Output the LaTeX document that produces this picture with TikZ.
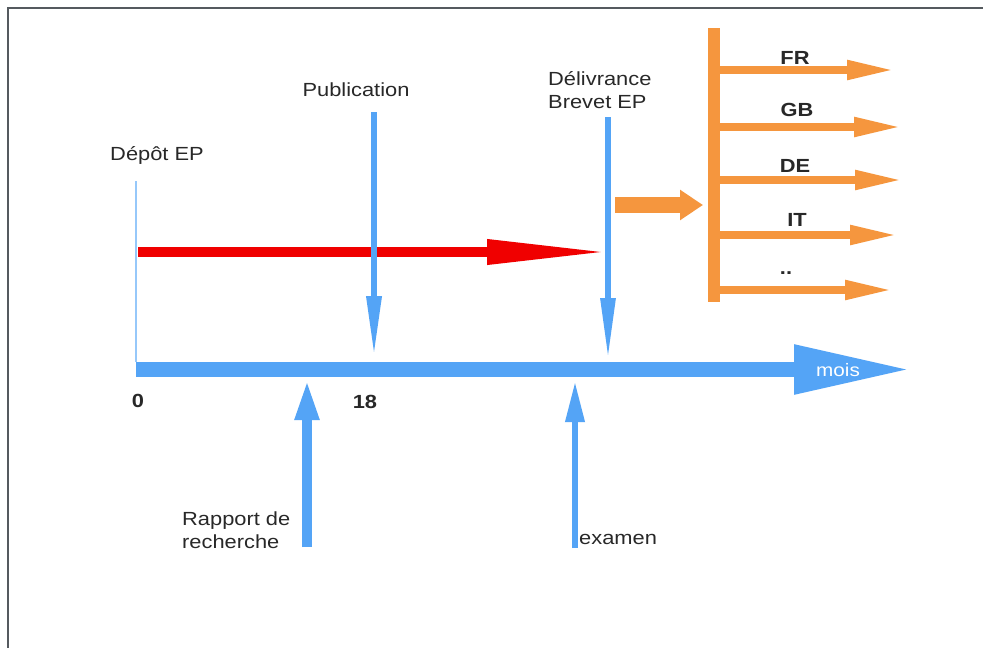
\documentclass[tikz,border=0pt]{standalone}
\usepackage{fontspec}
\setmainfont{Liberation Sans}[FakeStretch=1.15]
\usetikzlibrary{arrows.meta}
\definecolor{skyb}{RGB}{84,164,246}
\definecolor{paleb}{RGB}{150,200,250}
\definecolor{redarr}{RGB}{240,0,0}
\definecolor{orng}{RGB}{245,150,62}
\definecolor{txt}{RGB}{40,40,40}
\definecolor{frm}{RGB}{85,90,95}
\begin{document}
\begin{tikzpicture}[x=1pt,y=-1pt,
  lbl/.style={inner sep=0pt, text=txt, font=\fontsize{19}{23}\selectfont},
  blbl/.style={inner sep=0pt, text=txt, font=\fontsize{19}{23}\selectfont\bfseries},
  blockarr/.style n args={4}{draw=#1, line width=#2, -{Triangle[length=#3, width=#4]}}]
\useasboundingbox (0,0) rectangle (983,648);
\clip (0,0) rectangle (983,648);
\fill[white] (0,0) rectangle (983,648);
\draw[frm, line width=2pt] (8,8) rectangle (1010,680);

% coordinates
\coordinate (d0) at (136,181);   \coordinate (d1) at (136,362);
\coordinate (r0) at (138,252);   \coordinate (r1) at (611,252);
\coordinate (p0) at (374,112);   \coordinate (p1) at (374,358);
\coordinate (e0) at (608,117);   \coordinate (e1) at (608,360);
\coordinate (m0) at (136,369.5); \coordinate (m1) at (911,369.5);
\coordinate (rr0) at (307,547);  \coordinate (rr1) at (307,379);
\coordinate (x0) at (575,548);   \coordinate (x1) at (575,381);
\coordinate (ob0) at (714,28);   \coordinate (ob1) at (714,302);
\coordinate (os0) at (615,205);  \coordinate (os1) at (703,205);

% thin depot line
\draw[paleb, line width=2pt] (d0) -- (d1);
% main time axis
\draw[blockarr={skyb}{15pt}{117pt}{46pt}] (m0) -- (m1);
% red arrow
\draw[blockarr={redarr}{10pt}{124pt}{23pt}] (r0) -- (r1);
% publication and delivrance arrows
\draw[blockarr={skyb}{6.5pt}{62pt}{14pt}] (p0) -- (p1);
\draw[blockarr={skyb}{6pt}{62pt}{14pt}] (e0) -- (e1);
% rapport and examen arrows
\draw[blockarr={skyb}{10pt}{41pt}{22pt}] (rr0) -- (rr1);
\draw[blockarr={skyb}{6.5pt}{41pt}{18pt}] (x0) -- (x1);
% orange structure
\draw[orng, line width=12pt] (ob0) -- (ob1);
\draw[blockarr={orng}{16pt}{23pt}{29pt}] (os0) -- (os1);
\foreach \n/\y/\t in {fr/70/895, gb/127/902, de/180/903, it/235/898, oth/290/893}{
  \coordinate (\n0) at (719,\y);
  \coordinate (\n1) at (\t,\y);
  \draw[blockarr={orng}{8pt}{48pt}{18pt}] (\n0) -- (\n1);
}

% texts
\node[lbl] (tdepot) at (157,155) {Dépôt EP};
\node[lbl] (tpub) at (356,90) {Publication};
\node[lbl, anchor=west, align=left] (tdel) at (548,90) {Délivrance\\Brevet EP};
\node[lbl, anchor=west, align=left] (trap) at (182,530) {Rapport de\\recherche};
\node[lbl, anchor=west] (texa) at (579,539) {examen};
\node[inner sep=0pt, text=white, font=\fontsize{18}{22}\selectfont] (tmois) at (838,370) {mois};
\node[blbl] (t0) at (138,401) {0};
\node[blbl] (t18) at (365,402) {18};
\node[blbl] (tfr) at (795,58) {FR};
\node[blbl] (tgb) at (797,110) {GB};
\node[blbl] (tde) at (795,166) {DE};
\node[blbl] (tit) at (797,220) {IT};
\node[blbl] (tdots) at (786,273) {..};
\end{tikzpicture}
\end{document}
